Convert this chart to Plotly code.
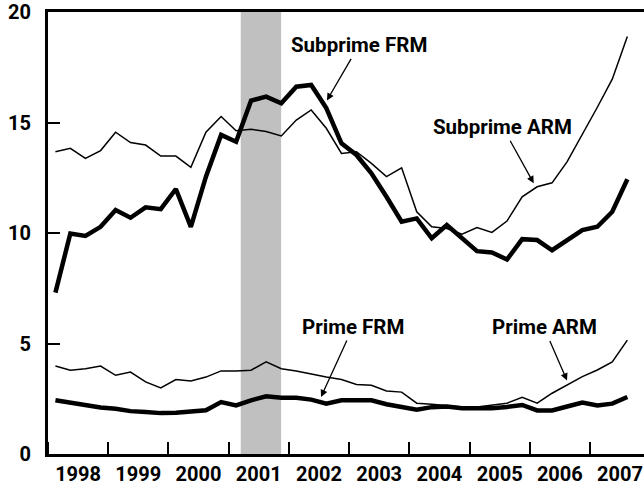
import pandas as pd
import plotly.graph_objects as go

# Quarterly data, 1998Q1 - 2007Q3 (percent)
quarters = pd.period_range("1998Q1", "2007Q3", freq="Q")
subprime_frm = [7.3, 9.98, 9.87, 10.28, 11.04, 10.69, 11.16, 11.08, 11.99, 10.28, 12.55, 14.44,
                14.13, 15.99, 16.17, 15.87, 16.62, 16.7, 15.65, 14.06, 13.53, 12.7, 11.64, 10.51,
                10.66, 9.76, 10.36, 9.76, 9.18, 9.12, 8.8, 9.72, 9.68, 9.22, 9.68, 10.13,
                10.28, 10.96, 12.43]
subprime_arm = [13.68, 13.83, 13.38, 13.73, 14.56, 14.09, 13.98, 13.48, 13.48, 12.97, 14.56, 15.27,
                14.63, 14.69, 14.59, 14.39, 15.11, 15.57, 14.74, 13.6, 13.68, 13.15, 12.55, 12.95,
                10.96, 10.28, 10.2, 9.95, 10.25, 10.03, 10.54, 11.64, 12.09, 12.27, 13.23, 14.44,
                15.69, 16.96, 18.89]
prime_frm = [2.43, 2.31, 2.20, 2.10, 2.05, 1.94, 1.90, 1.85, 1.87, 1.90, 1.98, 2.35,
             2.20, 2.43, 2.61, 2.55, 2.55, 2.46, 2.28, 2.43, 2.43, 2.43, 2.25, 2.13,
             2.0, 2.12, 2.15, 2.07, 2.07, 2.07, 2.13, 2.22, 1.97, 1.97, 2.15, 2.33,
             2.2, 2.28, 2.58]
prime_arm = [3.98, 3.79, 3.86, 3.98, 3.56, 3.71, 3.26, 2.99, 3.37, 3.30, 3.48, 3.76,
             3.76, 3.79, 4.17, 3.86, 3.76, 3.61, 3.48, 3.37, 3.15, 3.11, 2.85, 2.80,
             2.30, 2.25, 2.2, 2.13, 2.13, 2.2, 2.3, 2.57, 2.3, 2.75, 3.13, 3.5,
             3.8, 4.17, 5.15]
recession = ["2001-03-15", "2001-11-15"]
y_ticks = [0, 5, 10, 15, 20]

x = [p.start_time + (p.end_time - p.start_time) / 2 for p in quarters]

FONT = "Roboto"
fig = go.Figure()
fig.add_vrect(x0=recession[0], x1=recession[1], fillcolor="#c0c0c0", opacity=1,
              line_width=0, layer="below")

series = [
    ("Subprime ARM", subprime_arm, 1.5),
    ("Prime ARM", prime_arm, 1.5),
    ("Prime FRM", prime_frm, 4.5),
    ("Subprime FRM", subprime_frm, 4.5),
]
for name, vals, w in series:
    fig.add_trace(go.Scatter(x=x, y=vals, mode="lines", name=name,
                             line=dict(color="black", width=w), showlegend=False))

labels = [
    # text, tip x, tip y, ax, ay
    ("Subprime FRM", "2002-08-20", 16.0, 32, -55),
    ("Subprime ARM", "2006-01-25", 12.25, -31, -56),
    ("Prime FRM", "2002-07-15", 2.58, 32, -70),
    ("Prime ARM", "2006-08-15", 3.33, -23, -53),
]
for t, ax_x, ax_y, dx, dy in labels:
    fig.add_annotation(x=ax_x, y=ax_y, text=t, showarrow=True, ax=dx, ay=dy,
                       arrowhead=2, arrowsize=1.1, arrowwidth=1.3, arrowcolor="black",
                       font=dict(family=FONT, size=20.5, color="black", weight="bold"))

fig.update_layout(
    width=644, height=488,
    margin=dict(l=48, r=0, t=12, b=34),
    plot_bgcolor="white", paper_bgcolor="white",
    font=dict(family=FONT, size=20, color="black", weight="bold"),
    xaxis=dict(type="date", range=["1998-01-01", "2007-11-25"], dtick="M12",
               tick0="1998-01-01", tickformat="%Y", ticklabelmode="period",
               ticks="inside", ticklen=12, tickwidth=2, tickcolor="black",
               showline=True, linecolor="black", linewidth=3, mirror=True,
               showgrid=False, zeroline=False, automargin=False),
    yaxis=dict(range=[0, 20], tickvals=y_ticks, ticks="inside", ticklen=12,
               tickwidth=2, tickcolor="black", showline=True, linecolor="black",
               linewidth=3, showgrid=False, zeroline=False, ticklabelstandoff=10,
               automargin=False),
)
fig.write_html("out.html", config={"displayModeBar": False},
               post_script="document.body.style.margin='0';document.body.style.padding='0';")
